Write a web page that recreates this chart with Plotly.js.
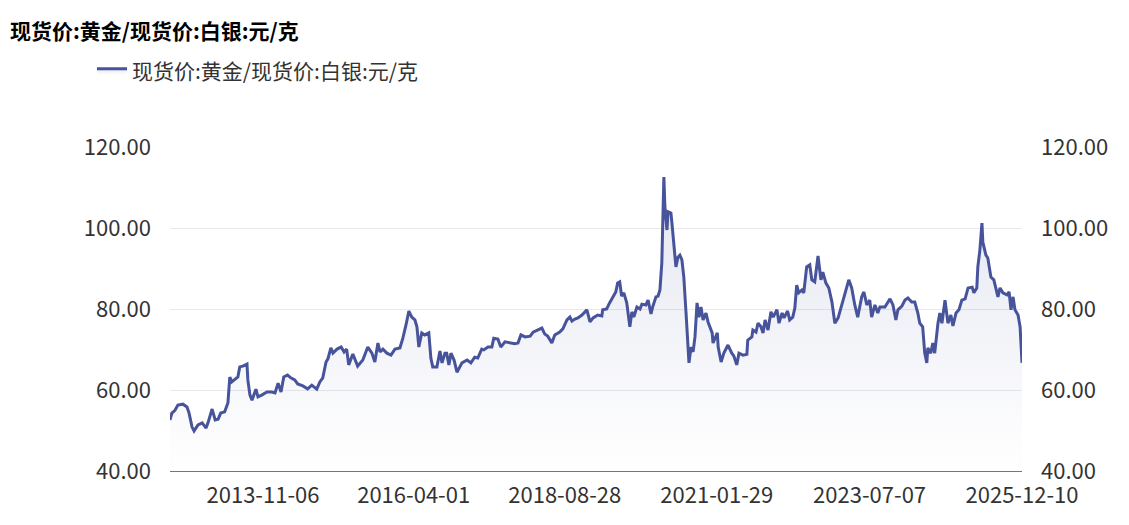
<!DOCTYPE html>
<html>
<head>
<meta charset="utf-8">
<script src="https://cdn.plot.ly/plotly-3.0.1.min.js"></script>
<style>html,body{margin:0;padding:0;background:#fff;}#chart{width:1129px;height:525px;}</style>
</head>
<body>
<div id="chart"></div>
<script>
const seriesName = "现货价:黄金/现货价:白银:元/克";
const chartTitle = "现货价:黄金/现货价:白银:元/克";
const tickDates = ["2013-11-06","2016-04-01","2018-08-28","2021-01-29","2023-07-07","2025-12-10"];
const yTicks = [40, 60, 80, 100, 120];

const dates = [
"2012-05-14","2012-05-25","2012-06-12","2012-06-29","2012-07-28","2012-08-21","2012-09-02","2012-09-19","2012-10-01","2012-10-24",
"2012-11-17","2012-12-10","2012-12-21","2013-01-14","2013-02-01","2013-02-18","2013-03-05","2013-03-28","2013-04-16","2013-04-27",
"2013-05-09","2013-05-26","2013-06-13","2013-06-24","2013-07-12","2013-08-05","2013-08-10","2013-08-22","2013-09-03","2013-09-26",
"2013-10-08","2013-11-01","2013-11-29","2013-12-28","2014-01-15","2014-02-02","2014-02-19","2014-03-07","2014-03-29","2014-04-17",
"2014-05-10","2014-05-27","2014-06-26","2014-07-24","2014-08-17","2014-09-15","2014-10-03","2014-10-20","2014-11-08","2014-11-19",
"2014-12-06","2014-12-18","2015-01-11","2015-02-04","2015-02-21","2015-03-08","2015-03-20","2015-04-13","2015-05-11","2015-06-10",
"2015-07-09","2015-08-02","2015-08-19","2015-09-06","2015-09-18","2015-10-05","2015-10-28","2015-11-21","2015-12-14","2016-01-12",
"2016-01-29","2016-02-16","2016-03-04","2016-03-21","2016-04-08","2016-04-20","2016-05-01","2016-05-18","2016-06-05","2016-06-28",
"2016-07-10","2016-07-21","2016-08-14","2016-09-01","2016-09-13","2016-09-30","2016-10-10","2016-10-23","2016-11-04","2016-11-22",
"2016-12-09","2017-01-07","2017-02-06","2017-02-28","2017-03-22","2017-04-09","2017-05-02","2017-05-14","2017-06-07","2017-06-30",
"2017-07-11","2017-08-04","2017-08-21","2017-09-14","2017-10-13","2017-11-11","2017-11-29","2017-12-16","2018-01-09","2018-02-08",
"2018-02-25","2018-03-24","2018-04-17","2018-05-04","2018-05-21","2018-06-14","2018-07-01","2018-07-30","2018-08-17","2018-09-10",
"2018-09-27","2018-10-09","2018-10-26","2018-11-13","2018-12-06","2018-12-24","2019-01-04","2019-01-22","2019-02-09","2019-03-08",
"2019-04-01","2019-04-06","2019-04-29","2019-05-16","2019-06-04","2019-06-21","2019-07-02","2019-07-14","2019-07-25","2019-08-07",
"2019-08-24","2019-09-11","2019-09-23","2019-10-04","2019-10-22","2019-11-09","2019-11-20","2019-12-13","2019-12-26","2020-01-12",
"2020-01-23","2020-02-10","2020-02-22","2020-03-04","2020-03-15","2020-03-21","2020-03-27","2020-04-02","2020-04-14","2020-04-20",
"2020-05-07","2020-05-13","2020-05-24","2020-06-05","2020-06-17","2020-06-28","2020-07-10","2020-07-21","2020-08-03","2020-08-14",
"2020-08-20","2020-09-01","2020-09-13","2020-09-24","2020-10-06","2020-10-17","2020-10-29","2020-11-10","2020-11-27","2020-12-09",
"2021-01-02","2021-01-07","2021-02-01","2021-02-06","2021-02-23","2021-03-11","2021-04-04","2021-04-26","2021-05-08","2021-05-25",
"2021-06-07","2021-06-30","2021-07-23","2021-07-28","2021-08-21","2021-08-27","2021-09-14","2021-09-26","2021-10-13","2021-10-25",
"2021-11-06","2021-11-23","2021-12-10","2021-12-23","2022-01-14","2022-01-26","2022-02-13","2022-02-24","2022-03-17","2022-03-29",
"2022-04-16","2022-04-28","2022-05-09","2022-05-21","2022-06-08","2022-06-19","2022-07-06","2022-07-24","2022-08-05","2022-08-22",
"2022-09-04","2022-09-10","2022-09-27","2022-10-08","2022-10-26","2022-11-12","2022-11-30","2022-12-17","2023-01-05","2023-01-28",
"2023-02-15","2023-03-08","2023-03-25","2023-04-12","2023-04-29","2023-05-22","2023-06-04","2023-06-21","2023-07-08","2023-07-19",
"2023-08-07","2023-08-24","2023-09-05","2023-10-04","2023-11-03","2023-11-20","2023-12-07","2023-12-19","2024-01-11","2024-01-29",
"2024-02-15","2024-03-08","2024-03-26","2024-04-13","2024-04-24","2024-05-11","2024-05-23","2024-06-04","2024-06-10","2024-06-27",
"2024-07-09","2024-07-20","2024-08-08","2024-08-19","2024-08-31","2024-09-18","2024-10-05","2024-10-22","2024-11-03","2024-11-21",
"2024-12-08","2024-12-25","2025-01-13","2025-01-30","2025-02-23","2025-03-05","2025-03-22","2025-03-28","2025-04-09","2025-04-21",
"2025-04-26","2025-05-14","2025-05-25","2025-06-12","2025-06-29","2025-07-23","2025-08-04","2025-08-21","2025-09-14","2025-09-26",
"2025-10-07","2025-10-19","2025-10-30","2025-11-17","2025-11-29","2025-12-10"
];

const ratio = [
52.6,54.3,55.0,56.3,56.5,55.8,54.3,50.9,49.9,51.4,
51.9,50.6,51.9,55.3,52.6,52.8,54.3,54.6,56.8,63.2,
62.0,62.5,63.2,65.7,65.9,66.4,62.5,58.8,57.5,60.2,
58.3,58.8,59.5,59.5,59.3,61.7,59.5,63.2,63.7,63.0,
62.5,61.5,61.0,60.3,61.2,60.2,62.0,63.0,66.9,67.7,
70.4,69.1,70.1,70.6,69.4,70.1,66.2,68.9,65.9,67.4,
70.6,69.1,66.9,71.6,69.4,70.1,69.1,68.6,70.1,70.4,
72.8,76.0,79.5,78.0,77.3,75.6,70.6,74.1,73.6,74.1,
67.9,65.7,65.7,69.6,66.7,69.1,69.1,66.2,69.1,67.4,
64.4,66.7,67.4,66.7,68.1,67.9,70.1,69.9,70.6,70.6,
72.8,72.6,70.6,71.9,71.6,71.4,71.6,73.6,73.1,73.3,
74.3,74.8,75.3,73.8,73.3,71.6,73.6,74.3,75.1,77.3,
78.0,77.0,77.5,77.8,78.5,79.3,79.8,76.8,77.8,78.5,
78.3,79.8,80.0,81.5,83.0,84.2,86.4,86.7,83.2,84.0,
81.5,75.6,79.3,78.0,80.5,80.0,81.2,81.0,82.2,78.8,
80.7,83.0,83.2,84.7,91.4,100.2,112.6,105.2,99.5,104.0,
103.7,101.2,95.8,90.4,92.8,93.3,92.1,87.9,79.0,70.6,
66.7,70.6,69.4,73.1,81.5,78.0,80.5,77.3,79.0,76.8,
74.1,71.6,74.1,70.6,66.9,69.1,71.1,69.1,68.4,66.2,
69.1,68.6,68.8,72.3,73.1,74.8,74.3,76.5,75.6,74.1,
77.3,74.8,79.3,78.0,79.8,76.5,79.0,77.8,79.5,77.3,
78.0,80.2,85.9,84.0,84.7,84.0,90.4,90.9,87.2,86.7,
91.6,93.1,87.2,89.1,86.4,85.2,81.7,76.5,77.8,81.0,
84.0,87.2,85.2,81.0,78.0,83.0,84.2,81.0,82.2,78.0,
81.0,79.0,80.5,80.5,82.5,81.0,77.3,79.8,80.7,82.2,
82.7,81.7,81.7,79.0,76.5,75.6,69.1,66.7,70.4,69.1,
71.6,69.1,76.5,79.0,76.5,82.2,76.5,78.5,75.8,79.0,
79.8,82.2,82.5,85.2,85.4,84.0,85.2,90.4,94.6,101.2,
96.5,93.3,92.6,87.9,87.2,83.0,85.2,84.0,83.5,84.2,
79.8,83.0,79.8,78.5,75.6,66.7
];

const lineColor = '#47539b';
const tickFont = {family: '"Noto Sans CJK SC", "Noto Sans", sans-serif', size: 22, color: '#333'};

const traces = [
  {
    x: dates, y: ratio, name: seriesName, type: 'scatter', mode: 'lines',
    line: {color: lineColor, width: 3},
    fill: 'tozeroy',
    fillgradient: {type: 'vertical', start: 40, stop: 112,
      colorscale: [[0, 'rgba(71,83,155,0.0)'], [1, 'rgba(71,83,155,0.14)']]},
    hoverinfo: 'skip'
  },
  {
    x: dates, y: ratio, yaxis: 'y2', type: 'scatter', mode: 'lines',
    line: {width: 0, color: 'rgba(0,0,0,0)'}, showlegend: false, hoverinfo: 'skip'
  }
];

const layout = {
  width: 1129, height: 525,
  margin: {l: 170, r: 107, t: 147, b: 54},
  paper_bgcolor: '#fff', plot_bgcolor: '#fff',
  title: {
    text: '<b>' + chartTitle + '</b>',
    x: 10/1129, xref: 'container', xanchor: 'left',
    y: 1 - 32/525, yref: 'container', yanchor: 'middle',
    font: {family: '"Noto Sans CJK SC", sans-serif', size: 21, color: '#000'}
  },
  showlegend: true,
  legend: {
    orientation: 'h', xref: 'container', yref: 'container',
    x: 92/1129, xanchor: 'left', y: 1 - 71/525, yanchor: 'middle',
    font: {family: '"Noto Sans CJK SC", sans-serif', size: 21, color: '#333'},
    bgcolor: 'rgba(0,0,0,0)'
  },
  xaxis: {
    type: 'date', range: ['2012-05-14', '2025-12-10'],
    tickmode: 'array', tickvals: tickDates, ticktext: tickDates,
    showgrid: false, zeroline: false,
    showline: true, linecolor: '#6a72a8', linewidth: 1.2,
    ticks: '', ticklabelstandoff: 4,
    tickfont: tickFont, fixedrange: true
  },
  yaxis: {
    range: [40, 120], tickmode: 'array', tickvals: yTicks, tickformat: '.2f',
    showgrid: true, gridcolor: '#e8e8ef', gridwidth: 1, zeroline: false,
    showline: false, ticks: '', ticklabelstandoff: 18,
    tickfont: tickFont, fixedrange: true
  },
  yaxis2: {
    range: [40, 120], overlaying: 'y', side: 'right',
    tickmode: 'array', tickvals: yTicks, tickformat: '.2f',
    showgrid: false, zeroline: false, showline: false, ticks: '',
    ticklabelstandoff: 18, tickfont: tickFont, fixedrange: true
  }
};

Plotly.newPlot('chart', traces, layout, {staticPlot: true, displayModeBar: false});
</script>
</body>
</html>
